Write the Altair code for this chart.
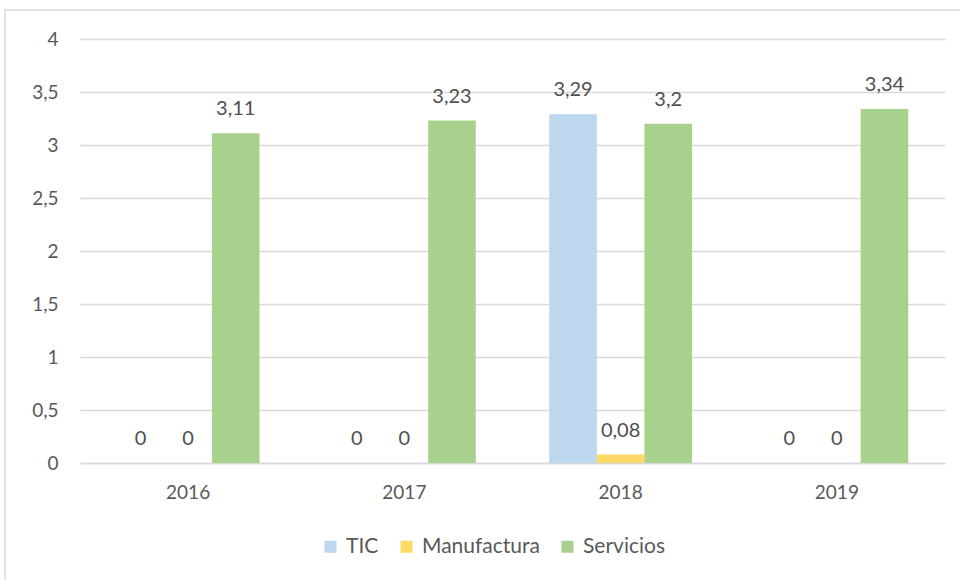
import altair as alt
import pandas as pd

years = ["2016", "2017", "2018", "2019"]
series = ["TIC", "Manufactura", "Servicios"]
tic = [0, 0, 3.29, 0]
manufactura = [0, 0, 0.08, 0]
servicios = [3.11, 3.23, 3.2, 3.34]
colors = ["#BDD7EE", "#FFD966", "#A9D18E"]

rows = []
for i, y in enumerate(years):
    for s, vals in zip(series, [tic, manufactura, servicios]):
        rows.append({"year": y, "serie": s, "value": vals[i]})
df = pd.DataFrame(rows)

FONT = "Lato"
W, H = 865, 424

base = alt.Chart(df).encode(
    x=alt.X("year:N", sort=years, title=None,
            scale=alt.Scale(paddingInner=0.34, paddingOuter=0.17),
            axis=alt.Axis(labelAngle=0, labelFontSize=19, labelColor="#595959",
                          labelFont=FONT, ticks=False, domainColor="#d9d9d9",
                          domainWidth=1.5, labelPadding=20, grid=False)),
    xOffset=alt.XOffset("serie:N", sort=series),
)

bars = base.mark_bar().encode(
    y=alt.Y("value:Q", title=None,
            scale=alt.Scale(domain=[0, 4]),
            axis=alt.Axis(values=[0, 0.5, 1, 1.5, 2, 2.5, 3, 3.5, 4],
                          labelExpr="replace(toString(datum.value), '.', ',')",
                          labelFontSize=19, labelColor="#595959", labelFont=FONT,
                          ticks=False, domain=False, gridColor="#d9d9d9",
                          gridWidth=1.5, labelPadding=22)),
    color=alt.Color("serie:N", sort=series,
                    scale=alt.Scale(domain=series, range=colors),
                    legend=alt.Legend(title=None, orient="none", direction="horizontal",
                                      legendX=240, legendY=497,
                                      symbolType="square", symbolSize=144,
                                      symbolStrokeWidth=0, labelFontSize=21,
                                      labelColor="#595959", labelFont=FONT,
                                      columnPadding=17, labelOffset=5)),
)

labels = base.mark_text(baseline="middle", dy=-24, fontSize=20,
                        color="#505050", font=FONT).encode(
    y=alt.Y("value:Q"),
    text=alt.Text("lbl:N"),
).transform_calculate(lbl="replace(toString(datum.value), '.', ',')")

border = alt.Chart(pd.DataFrame({"a": [0]})).mark_rect(
    fill=None, stroke="#d9d9d9", strokeWidth=1.5
).encode(x=alt.value(-75), x2=alt.value(900), y=alt.value(-29), y2=alt.value(560))

chart = alt.layer(border, bars, labels).properties(
    width=W, height=H,
    autosize=alt.AutoSizeParams(type="none"),
    padding={"left": 80, "top": 39, "right": 15, "bottom": 117},
    background="white",
).configure_view(stroke=None)

chart.save("out.html", embed_options={"renderer": "svg", "actions": False})
